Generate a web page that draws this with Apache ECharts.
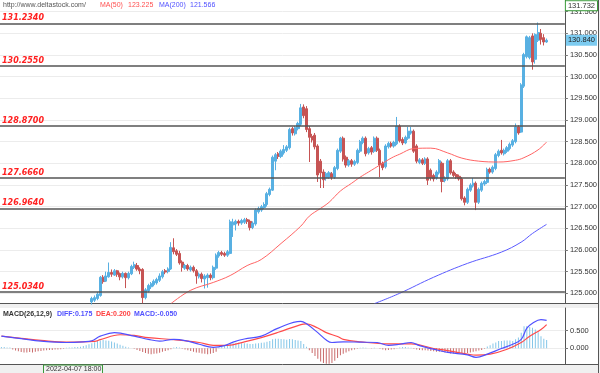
<!DOCTYPE html>
<html><head><meta charset="utf-8">
<script src="https://cdn.jsdelivr.net/npm/echarts@6/dist/echarts.min.js"></script>
<style>html,body{margin:0;padding:0;background:#f0f0f0;}#c{width:600px;height:373px;}</style>
</head><body><div id="c"></div>
<script>
// ---------------- DATA ----------------
const categoryCount = 200;
const candleStart = 32;           // earlier candles lie below the visible price range
// [open, close, low, high]
const candles = [
[124.80,124.88,124.74,124.92],[124.84,124.90,124.80,124.95],[124.88,124.98,124.84,125.03],[124.95,125.37,124.92,125.40],
[125.37,125.27,125.22,125.42],[125.28,125.40,125.26,125.50],[125.38,125.48,125.36,125.71],[125.48,125.44,125.38,125.55],
[125.42,125.52,125.40,125.56],[125.52,125.44,125.38,125.54],[125.45,125.38,125.30,125.48],[125.38,125.46,125.34,125.50],
[125.46,125.36,125.12,125.48],[125.36,125.46,125.32,125.50],[125.45,125.62,125.42,125.66],[125.60,125.66,125.56,125.73],
[125.64,125.56,125.52,125.70],[125.56,125.52,125.44,125.60],[125.55,124.90,124.77,125.58],[124.90,125.08,124.86,125.12],
[125.06,125.18,125.02,125.22],[125.15,125.22,125.10,125.26],[125.20,125.28,125.16,125.32],[125.24,125.32,125.20,125.36],
[125.30,125.40,125.26,125.46],[125.38,125.50,125.34,125.54],[125.52,125.49,125.44,125.56],[125.50,125.56,125.46,125.60],
[125.56,126.06,125.54,126.18],[126.05,125.96,125.90,126.27],[125.98,125.90,125.86,126.02],[125.92,125.70,125.66,125.98],
[125.72,125.60,125.50,125.76],[125.58,125.64,125.54,125.68],[125.64,125.56,125.52,125.68],[125.54,125.60,125.50,125.64],
[125.60,125.52,125.48,125.64],[125.52,125.40,125.22,125.56],[125.38,125.44,125.34,125.48],[125.44,125.34,125.25,125.48],
[125.33,125.40,125.11,125.44],[125.36,125.42,125.13,125.46],[125.42,125.36,125.30,125.46],[125.36,125.60,125.32,125.64],
[125.58,125.88,125.54,125.92],[125.86,125.94,125.82,125.98],[125.94,125.90,125.86,125.98],[125.92,125.88,125.84,125.96],
[125.88,125.96,125.84,126.00],[125.92,126.65,125.90,126.70],[126.58,126.64,126.30,126.72],[126.60,126.66,126.45,126.70],
[126.66,126.62,126.56,126.70],[126.62,126.68,126.58,126.72],[126.64,126.70,126.60,126.74],[126.70,126.66,126.60,126.74],
[126.66,126.52,126.45,126.70],[126.52,126.62,126.48,126.66],[126.60,126.92,126.56,126.96],[126.88,126.96,126.84,127.00],
[126.92,127.00,126.88,127.04],[126.98,127.05,126.94,127.10],[127.05,127.30,127.00,127.34],[127.28,127.40,127.24,127.44],
[127.38,128.14,127.36,128.18],[128.05,128.20,127.84,128.24],[128.22,128.16,128.10,128.26],[128.16,128.28,128.12,128.32],
[128.24,128.32,128.20,128.42],[128.30,128.38,128.26,128.42],[128.36,128.78,128.32,128.82],[128.80,128.70,128.64,128.84],
[128.68,128.82,128.64,128.86],[128.80,128.92,128.76,128.96],[128.90,129.28,128.86,129.37],[129.30,129.10,129.04,129.36],
[129.26,128.78,128.72,129.32],[128.80,128.60,128.03,128.86],[128.62,128.54,128.48,128.68],[128.65,128.38,128.32,128.70],
[128.40,127.73,127.57,128.44],[128.05,127.78,127.43,128.10],[127.80,127.62,127.43,127.86],[127.66,127.76,127.60,127.80],
[127.68,127.78,127.64,127.82],[127.76,127.68,127.62,127.80],[127.68,127.90,127.64,127.94],[127.88,128.30,127.84,128.34],
[128.28,128.58,128.24,128.61],[128.58,128.10,128.04,128.62],[128.14,127.96,127.90,128.18],[127.96,128.06,127.92,128.10],
[128.06,127.98,127.92,128.10],[127.98,128.04,127.94,128.08],[128.02,128.30,127.98,128.34],[128.28,128.50,128.24,128.54],
[128.48,128.58,128.44,128.62],[128.58,128.22,128.16,128.62],[128.24,128.34,128.20,128.38],[128.36,128.26,128.20,128.40],
[128.28,128.58,128.24,128.62],[128.58,128.30,128.26,128.62],[128.30,127.96,127.68,128.34],[128.00,127.90,127.84,128.04],
[127.92,128.40,127.88,128.44],[128.38,128.46,128.34,128.50],[128.46,128.40,128.36,128.50],[128.40,128.48,128.36,128.52],
[128.45,128.86,128.42,129.07],[128.86,128.52,128.48,128.90],[128.55,128.47,128.42,128.60],[128.47,128.60,128.44,128.64],
[128.58,128.74,128.54,128.84],[128.70,128.74,128.66,128.84],[128.74,128.28,128.24,128.78],[128.40,128.05,128.00,128.44],
[128.02,128.08,127.98,128.12],[128.08,128.00,127.96,128.12],[128.00,128.10,127.96,128.14],[128.10,127.61,127.50,128.14],
[127.84,127.66,127.60,127.88],[127.72,127.64,127.58,127.76],[127.66,127.80,127.62,127.84],[127.78,128.06,127.74,128.10],
[128.00,127.58,127.33,128.04],[127.60,127.66,127.56,127.70],[127.64,128.06,127.60,128.10],[128.06,127.78,127.74,128.10],
[127.80,127.72,127.68,127.84],[127.74,127.68,127.64,127.78],[127.70,127.64,127.60,127.74],[127.64,127.18,127.14,127.68],
[127.20,127.10,127.03,127.24],[127.10,127.40,127.06,127.44],[127.38,127.50,127.34,127.54],[127.48,127.54,127.44,127.66],
[127.54,127.10,126.92,127.58],[127.10,127.40,127.06,127.44],[127.38,127.54,127.34,127.58],[127.52,127.58,127.48,127.62],
[127.56,127.86,127.52,127.90],[127.86,127.80,127.76,127.90],[127.80,127.91,127.76,127.95],[127.88,128.20,127.84,128.24],
[128.18,128.28,128.14,128.32],[128.30,128.24,128.20,128.54],[128.22,128.30,128.18,128.34],[128.28,128.36,128.24,128.40],
[128.34,128.44,128.30,128.48],[128.42,128.52,128.38,128.56],[128.50,128.84,128.46,128.92],[128.84,128.70,128.66,128.88],
[128.72,129.81,128.70,129.85],[129.78,130.51,129.74,130.55],[130.46,130.92,130.42,130.95],[130.44,130.90,130.40,130.94],
[130.94,130.34,130.16,131.00],[130.40,130.97,130.30,131.00],[130.84,131.02,130.80,131.25],[131.00,130.86,130.74,131.10],
[130.90,130.80,130.72,130.98],[130.80,130.84,130.78,130.88]
];
// moving averages: [candle index, value]
const ma50 = [[60,124.76],[67,125.07],[75,125.25],[81,125.41],[87,125.64],[92,125.78],[99,126.15],[106,126.55],
  [109,126.78],[113,126.96],[116,127.10],[120,127.36],[124,127.54],[127,127.68],[130,127.80],[134,127.96],[138,128.12],
  [141,128.21],[146,128.34],[152,128.35],[158,128.24],[163,128.12],[169,128.05],[176,128.03],[182,128.07],[185,128.13],
  [190,128.31],[193,128.49]];
const ma200 = [[132,124.76],[141,125.00],[153,125.37],[165,125.69],[177,125.95],[184,126.18],[188,126.38],[193,126.59]];
// MACD lines [candle index, value]
const diff = [[0,0.34],[7,0.27],[14,0.20],[23,0.16],[29,0.18],[32,0.21],[35,0.34],[40,0.44],[47,0.34],[52,0.25],
  [56,0.20],[61,0.25],[66,0.20],[70,0.11],[75,0.02],[79,0.07],[82,0.17],[86,0.26],[92,0.34],[98,0.57],[106,0.76],
  [108,0.69],[112,0.44],[115,0.23],[117,0.16],[121,0.18],[127,0.17],[133,0.16],[137,0.08],[141,0.11],[145,0.16],
  [148,0.07],[153,-0.03],[158,-0.12],[165,-0.19],[168,-0.26],[172,-0.17],[177,-0.01],[181,0.11],[184,0.25],
  [186,0.57],[188,0.71],[191,0.81],[193,0.79]];
const dea = [[0,0.34],[7,0.28],[14,0.22],[23,0.17],[33,0.19],[35,0.24],[42,0.38],[47,0.36],[52,0.30],[61,0.24],
  [70,0.16],[75,0.08],[80,0.08],[86,0.18],[92,0.30],[98,0.45],[106,0.67],[108,0.69],[112,0.57],[115,0.44],
  [119,0.33],[121,0.25],[127,0.18],[137,0.12],[145,0.12],[153,-0.01],[158,-0.07],[165,-0.17],[168,-0.20],
  [173,-0.17],[179,-0.03],[184,0.16],[187,0.34],[191,0.53],[193,0.67]];
const macdHist = [
 0.03,0.03,0.02,0.02,
 -0.04,-0.07,-0.09,-0.11,-0.12,-0.12,-0.11,-0.12,-0.10,-0.09,-0.08,-0.07,
 -0.06,-0.05,-0.05,-0.04,-0.04,-0.03,-0.02,
 0.01,0.02,0.02,0.03,0.03,0.04,0.06,
 0.08,0.11,0.14,0.17,0.20,0.22,0.23,0.22,0.21,0.19,0.16,0.13,
 0.10,0.07,0.04,0.02,0.00,
 -0.02,-0.05,-0.08,-0.11,-0.14,-0.16,-0.17,-0.16,-0.15,-0.13,-0.10,-0.08,-0.06,-0.03,0.02,0.03,0.02,-0.02,-0.04,-0.06,-0.08,-0.10,-0.12,-0.13,-0.15,-0.16,-0.17,-0.16,-0.14,-0.10,
 0.02,0.04,0.06,0.08,0.12,0.14,0.15,0.15,0.14,0.14,0.13,0.12,0.12,0.13,0.14,0.15,0.16,0.18,0.20,0.25,0.27,0.27,0.26,0.25,0.24,0.26,0.25,0.23,0.22,0.20,
 0.12,0.04,-0.06,-0.14,-0.22,-0.30,-0.38,-0.42,-0.44,-0.44,-0.42,-0.36,-0.28,-0.20,
 -0.16,-0.12,-0.09,-0.06,-0.04,
 -0.02,0.01,0.02,0.01,0.00,-0.01,0.01,0.00,-0.02,
 -0.04,-0.06,-0.05,-0.04,-0.03,-0.01,
 0.02,0.03,0.03,0.02,0.01,
 -0.02,-0.04,-0.05,-0.06,-0.06,-0.07,
 -0.08,-0.09,-0.10,-0.10,-0.11,
 -0.12,-0.14,-0.15,-0.15,-0.14,-0.13,
 -0.14,-0.15,-0.14,-0.12,-0.10,-0.09,-0.07,-0.05,-0.02,
 0.05,0.08,0.13,0.16,0.20,0.20,0.22,0.22,0.22,0.20,0.25,0.30,0.44,0.62,0.63,0.60,0.58,0.53,0.45,0.34,0.27,0.23
];
const levels = [131.234, 130.255, 128.870, 127.666, 126.964, 125.034];
const priceTicks = [125.0,125.5,126.0,126.5,127.0,127.5,128.0,128.5,129.0,129.5,130.0,130.5,131.0,131.5];
const macdTicks = [0.0, 0.5];
const lastPrice = 130.840;
const topPrice = 131.732;
const headerUrl = 'http://www.deltastock.com/';
const maLegend = [['MA(50)', '123.225'], ['MA(200)', '121.566']];
const macdLegend = ['MACD(26,12,9)', 'DIFF:0.175', 'DEA:0.200', 'MACD:-0.050'];
const cursorTime = '2022-04-07 18:00';

// ---------------- BUILD ----------------
const categories = [];
for (let i = 0; i < categoryCount; i++) categories.push(String(i));
const candleData = [];
for (let i = 0; i < categoryCount; i++) {
  const k = i - candleStart;
  candleData.push(k >= 0 && k < candles.length ? candles[k] : ['-','-','-','-']);
}
const BLUE = '#58b0e2', RED = '#c65454';
const FONT = 'Liberation Sans, Arial, sans-serif';
const chart = echarts.init(document.getElementById('c'), null, {renderer: 'canvas'});

const levelLines = levels.map(v => ({
  yAxis: v,
  lineStyle: {color: '#555', width: 1.5, type: 'solid'},
  label: {show: true, position: 'insideStartTop', distance: [2, 1],
    formatter: v.toFixed(4),
    color: '#ff2020', fontSize: 8, fontWeight: 'bold', fontStyle: 'italic', fontFamily: 'DejaVu Sans'}
}));
const tagLines = [
  {yAxis: lastPrice, lineStyle: {color: 'rgba(0,0,0,0)', width: 0},
   label: {show: true, position: 'end', distance: 1, formatter: lastPrice.toFixed(3),
     backgroundColor: '#7ccbf0', color: '#222', fontSize: 7.5, fontFamily: FONT, padding: [2, 2, 1, 2]}},
  {yAxis: topPrice, lineStyle: {color: 'rgba(0,0,0,0)', width: 0},
   label: {show: true, position: 'end', distance: 1, offset: [0, 4], formatter: topPrice.toFixed(3),
     backgroundColor: '#fff', borderColor: '#3a9a3a', borderWidth: 1, color: '#333', fontSize: 7.5, fontFamily: FONT, padding: [1, 2, 0, 2]}}
];

const hdrStyle = (txt, x, y, color, bold) => ({
  type: 'text', left: x, top: y, z: 100,
  style: {text: txt, fill: color, font: (bold ? 'bold ' : '') + '7px ' + FONT}
});

const option = {
  backgroundColor: '#f0f0f0',
  animation: false,
  grid: [
    {left: 0, right: 35, top: 0, height: 303, show: true, backgroundColor: '#fff', borderWidth: 0},
    {left: 0, right: 35, top: 308, height: 56, show: true, backgroundColor: '#fff', borderWidth: 0}
  ],
  xAxis: [
    {type: 'category', gridIndex: 0, data: categories, boundaryGap: true,
     axisLine: {show: true, onZero: false, lineStyle: {color: '#555'}}, axisTick: {show: false}, axisLabel: {show: false}, splitLine: {show: false}},
    {type: 'category', gridIndex: 1, data: categories, boundaryGap: true,
     axisLine: {show: true, onZero: false, lineStyle: {color: '#555'}}, axisTick: {show: false}, axisLabel: {show: false}, splitLine: {show: false}}
  ],
  yAxis: [
    {type: 'value', gridIndex: 0, position: 'right', min: 124.776, max: 131.769,
     axisLine: {show: true, lineStyle: {color: '#555'}},
     axisTick: {show: true, length: 3, customValues: priceTicks, lineStyle: {color: '#777'}},
     axisLabel: {show: true, customValues: priceTicks, color: '#333', fontSize: 7.5, fontFamily: FONT, margin: 5,
       formatter: v => Number(v).toFixed(3)},
     splitLine: {show: true, lineStyle: {color: '#ececec', width: 1}}},
    {type: 'value', gridIndex: 1, position: 'right', min: -0.45, max: 1.14,
     axisLine: {show: true, lineStyle: {color: '#555'}},
     axisTick: {show: true, length: 3, customValues: macdTicks, lineStyle: {color: '#777'}},
     axisLabel: {show: true, customValues: macdTicks, color: '#333', fontSize: 7.5, fontFamily: FONT, margin: 5,
       formatter: v => Number(v).toFixed(3)},
     splitLine: {show: true, lineStyle: {color: '#ececec', width: 1}}}
  ],
  series: [
    {type: 'candlestick', name: 'price', xAxisIndex: 0, yAxisIndex: 0, data: candleData, barWidth: 2.6, clip: true,
     itemStyle: {color: BLUE, color0: RED, borderColor: BLUE, borderColor0: RED, borderWidth: 1},
     markLine: {silent: true, symbol: ['none', 'none'], animation: false, data: levelLines}},
    {type: 'line', name: 'MA(50)', xAxisIndex: 0, yAxisIndex: 0, data: ma50, smooth: 0.4, showSymbol: false,
     lineStyle: {color: '#ff6464', width: 1}, clip: true},
    {type: 'line', name: 'MA(200)', xAxisIndex: 0, yAxisIndex: 0, data: ma200, smooth: 0.4, showSymbol: false,
     lineStyle: {color: '#5a5aff', width: 1}, clip: true,
     markLine: {silent: true, symbol: ['none', 'none'], animation: false, data: tagLines}},
    {type: 'bar', name: 'MACD', xAxisIndex: 1, yAxisIndex: 1, data: macdHist, barWidth: 1,
     itemStyle: {color: p => p.value >= 0 ? '#84c6e8' : '#c96a6a'}},
    {type: 'line', name: 'DEA', xAxisIndex: 1, yAxisIndex: 1, data: dea, smooth: 0.4, showSymbol: false,
     lineStyle: {color: '#ff4a4a', width: 1.2}},
    {type: 'line', name: 'DIFF', xAxisIndex: 1, yAxisIndex: 1, data: diff, smooth: 0.4, showSymbol: false,
     lineStyle: {color: '#5050ff', width: 1.2}}
  ],
  graphic: [
    {type: 'rect', shape: {x: 565, y: 0, width: 33, height: 303}, style: {fill: '#fff'}, z: -1},
    {type: 'rect', shape: {x: 565, y: 308, width: 33, height: 56}, style: {fill: '#fff'}, z: -1},
    {type: 'line', shape: {x1: 598.5, y1: 0, x2: 598.5, y2: 373}, style: {stroke: '#555', lineWidth: 1}, z: 50},
    {type: 'line', shape: {x1: 565, y1: 303.5, x2: 598, y2: 303.5}, style: {stroke: '#555', lineWidth: 1}, z: 50},
    {type: 'line', shape: {x1: 565, y1: 364.5, x2: 598, y2: 364.5}, style: {stroke: '#555', lineWidth: 1}, z: 50},
    hdrStyle(headerUrl, 3, 2, '#555', false),
    hdrStyle(maLegend[0][0], 100, 2, '#ff5050', false),
    hdrStyle(maLegend[0][1], 128, 2, '#ff5050', false),
    hdrStyle(maLegend[1][0], 159, 2, '#5050ff', false),
    hdrStyle(maLegend[1][1], 190, 2, '#5050ff', false),
    hdrStyle(macdLegend[0], 3, 311, '#333', true),
    hdrStyle(macdLegend[1], 57, 311, '#5050ff', true),
    hdrStyle(macdLegend[2], 96, 311, '#ff4040', true),
    hdrStyle(macdLegend[3], 134, 311, '#5050ff', true),
    {type: 'rect', shape: {x: 43.5, y: 365, width: 59, height: 9}, style: {fill: '#f2f2f2', stroke: '#3a9a3a', lineWidth: 1}, z: 60},
    {type: 'text', left: 46, top: 365.5, z: 61, style: {text: cursorTime, fill: '#333', font: '7px ' + FONT}}
  ]
};
chart.setOption(option);
</script>
</body></html>
